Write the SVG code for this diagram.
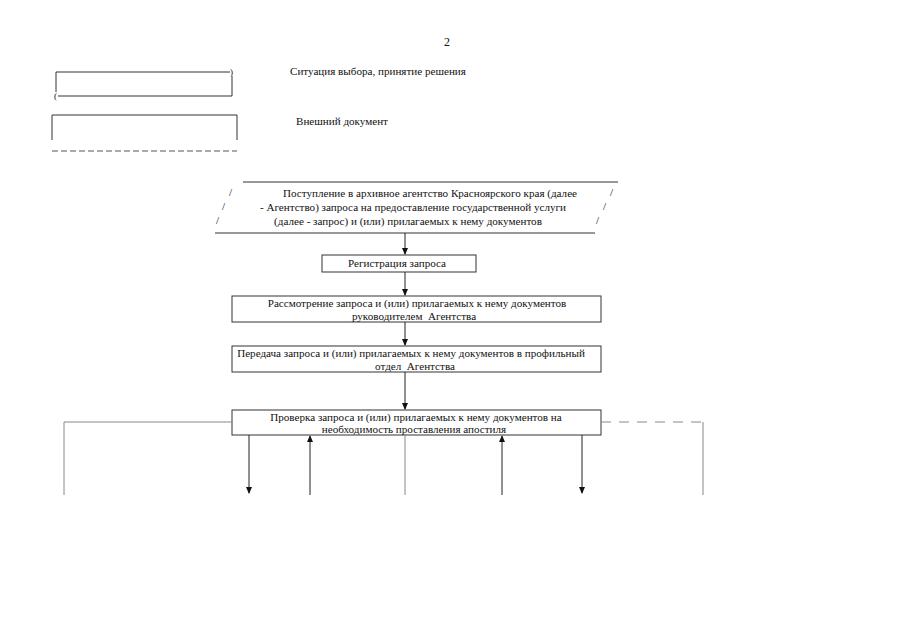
<svg xmlns="http://www.w3.org/2000/svg" width="905" height="640" viewBox="0 0 905 640">
<defs>
<marker id="ah" viewBox="0 0 8 8" refX="7" refY="4" markerWidth="7" markerHeight="7" orient="auto" markerUnits="userSpaceOnUse">
<path d="M0,0.5 L8,4 L0,7.5 Z" fill="#111"/>
</marker>
<style>
text{font-family:"Liberation Serif","Times New Roman",serif;font-size:11.1px;fill:#111;white-space:pre}
.c{text-anchor:middle}
.box{fill:none;stroke:#333;stroke-width:1}
.ln{fill:none;stroke:#222;stroke-width:1}
.gr{fill:none;stroke:#888;stroke-width:1}
.dash{fill:none;stroke:#555;stroke-width:1;stroke-dasharray:6,3}
.dash2{fill:none;stroke:#888;stroke-width:1;stroke-dasharray:10,8}
</style>
</defs>
<rect width="905" height="640" fill="#fff"/>
<text x="447" y="46" class="c" style="font-size:12px">2</text>

<g id="legend-decision">
<path class="box" d="M56,72 H230 M56,72 V92 M58,96 H232 M232,76 V96"/>
<text x="230" y="75" style="font-size:9px">)</text>
<text x="54" y="99" style="font-size:9px">(</text>
<text x="290" y="75">Ситуация выбора, принятие решения</text>
</g>
<g id="legend-external">
<path class="box" d="M52,140 V115 H237 V140"/>
<path class="dash" d="M52,151 H237"/>
<text x="296" y="125">Внешний документ</text>
</g>

<g id="n-receipt">
<path class="box" d="M243,182 H618 M215,233 H595"/>
<text x="229" y="196">/</text><text x="222" y="210">/</text><text x="216" y="224">/</text>
<text x="610" y="196">/</text><text x="603" y="210">/</text><text x="596" y="224">/</text>
<text x="430" y="197" class="c">Поступление в архивное агентство Красноярского края (далее</text>
<text x="413" y="211" class="c">- Агентство) запроса на предоставление государственной услуги</text>
<text x="408" y="225" class="c">(далее - запрос) и (или) прилагаемых к нему документов</text>
</g>

<g id="n-register">
<rect class="box" x="322" y="255" width="154" height="17"/>
<text x="397" y="267" class="c">Регистрация запроса</text>
</g>
<g id="n-review">
<rect class="box" x="232" y="296" width="369" height="26"/>
<text x="417" y="307" class="c">Рассмотрение запроса и (или) прилагаемых к нему документов</text>
<text x="414" y="320" class="c">руководителем  Агентства</text>
</g>
<g id="n-transfer">
<rect class="box" x="232" y="346" width="369" height="26"/>
<text x="411" y="357" class="c">Передача запроса и (или) прилагаемых к нему документов в профильный</text>
<text x="415" y="370" class="c">отдел  Агентства</text>
</g>
<g id="n-check">
<rect class="box" x="232" y="410" width="369" height="25"/>
<text x="416" y="421" class="c">Проверка запроса и (или) прилагаемых к нему документов на</text>
<text x="414" y="433" class="c">необходимость проставления апостиля</text>
</g>

<g id="connectors">
<line class="ln" x1="405" y1="233" x2="405" y2="254" marker-end="url(#ah)"/>
<line class="ln" x1="405" y1="272" x2="405" y2="295" marker-end="url(#ah)"/>
<line class="ln" x1="405" y1="322" x2="405" y2="345" marker-end="url(#ah)"/>
<line class="ln" x1="405" y1="372" x2="405" y2="409" marker-end="url(#ah)"/>
<line class="gr" x1="405" y1="435" x2="405" y2="495"/>
<path class="gr" d="M232,422 H64 V495"/>
<path class="dash2" d="M601,422 H703"/>
<line class="gr" x1="703" y1="422" x2="703" y2="495"/>
<line class="ln" x1="249" y1="435" x2="249" y2="493" marker-end="url(#ah)"/>
<line class="ln" x1="310" y1="495" x2="310" y2="436" marker-end="url(#ah)"/>
<line class="ln" x1="502" y1="495" x2="502" y2="436" marker-end="url(#ah)"/>
<line class="ln" x1="582" y1="435" x2="582" y2="493" marker-end="url(#ah)"/>
</g>
</svg>
